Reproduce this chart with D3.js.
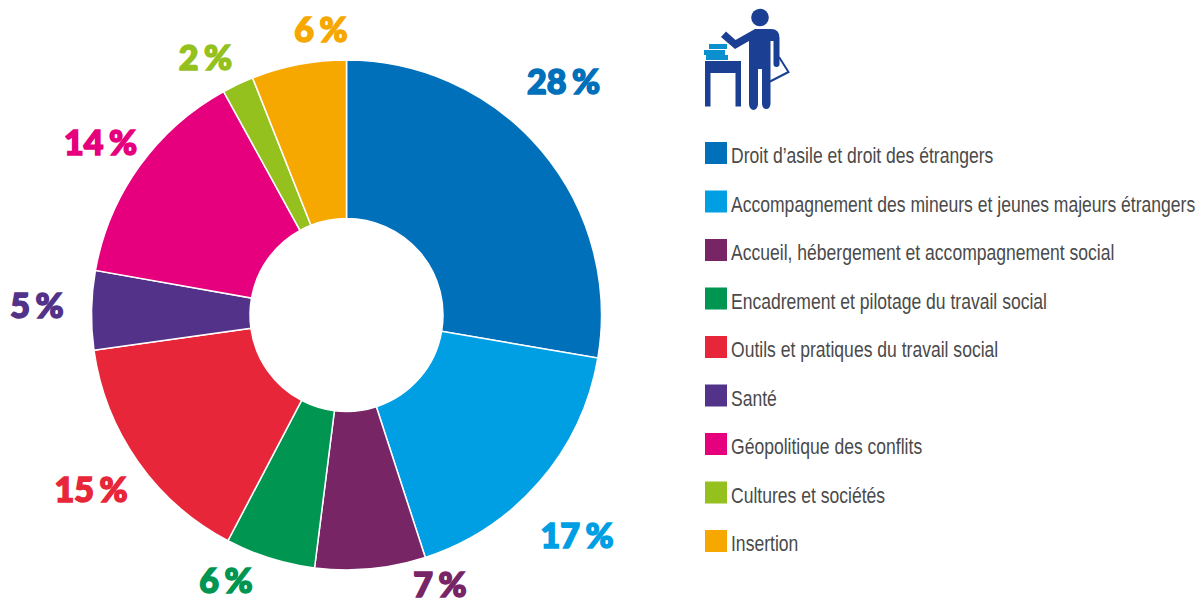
<!DOCTYPE html>
<html>
<head>
<meta charset="utf-8">
<script src="https://d3js.org/d3.v7.min.js"></script>
<style>
  html, body { margin: 0; padding: 0; background: #fff; }
  .legend-text { font-family: "Liberation Sans", sans-serif; font-size: 22px; fill: #4a4a4a; }
  .pct { font-family: Lato, "Liberation Sans", sans-serif; font-weight: 900; font-size: 34px; text-anchor: middle; stroke-width: 1.6px; word-spacing: -2.5px; }
</style>
</head>
<body>
<div id="chart-area"></div>
<script>
// Data
var categories = ["Droit d\u2019asile et droit des \u00e9trangers",
    "Accompagnement des mineurs et jeunes majeurs \u00e9trangers",
    "Accueil, h\u00e9bergement et accompagnement social",
    "Encadrement et pilotage du travail social",
    "Outils et pratiques du travail social",
    "Sant\u00e9",
    "G\u00e9opolitique des conflits",
    "Cultures et soci\u00e9t\u00e9s",
    "Insertion"];
// slice sizes
var values = [27.7, 17.3, 7, 5.7, 15.1, 5, 14.2, 2, 6];
var labels = ["28 %", "17 %", "7 %", "6 %", "15 %", "5 %", "14 %", "2 %", "6 %"];
var colors = ["#0070bb", "#009fe3", "#782566", "#009550", "#e72739", "#533389", "#e6007e", "#95c11f", "#f6a800"];

var width = 1202, height = 599;
var cx = 346.5, cy = 315, outerR = 255, innerR = 96.5;

// Hand placed labels, as in the original (centre of each text)
var labelX = [563.5, 577, 440, 226, 91, 37, 100.5, 205.5, 321];
var labelY = [93.5, 548, 597, 593, 502, 318, 155, 70, 42];

var svg = d3.select("#chart-area").append("svg")
    .attr("width", width)
    .attr("height", height)
    .style("display", "block");

// Donut
var pie = d3.pie().sort(null).value(function(d) { return d; });
var arc = d3.arc().innerRadius(innerR).outerRadius(outerR);

var g = svg.append("g")
    .attr("transform", "translate(" + cx + "," + cy + ")");

g.selectAll("path")
    .data(pie(values))
    .enter().append("path")
    .attr("d", arc)
    .attr("fill", function(d, i) { return colors[i]; })
    .attr("stroke", "#fff")
    .attr("stroke-width", 1.5);

// Percent labels
svg.selectAll(".pct")
    .data(labels)
    .enter().append("text")
    .attr("class", "pct")
    .attr("x", function(d, i) { return labelX[i]; })
    .attr("y", function(d, i) { return labelY[i]; })
    .attr("fill", function(d, i) { return colors[i]; })
    .attr("stroke", function(d, i) { return colors[i]; })
    .text(function(d) { return d; });

// Legend
var legendY = d3.scalePoint().domain(d3.range(categories.length)).range([142, 530]);

var legend = svg.selectAll(".legend")
    .data(categories)
    .enter().append("g")
    .attr("class", "legend")
    .attr("transform", function(d, i) { return "translate(705," + legendY(i) + ")"; });

legend.append("rect")
    .attr("width", 22)
    .attr("height", 22)
    .attr("fill", function(d, i) { return colors[i]; });

// the original face is condensed, so squeeze the text sideways
legend.append("text")
    .attr("class", "legend-text")
    .attr("transform", "translate(26,21) scale(0.798,1)")
    .text(function(d) { return d; });

// Person at desk icon
var icon = svg.append("g");
var navy = "#1b3f92";

icon.append("circle").attr("cx", 760).attr("cy", 17.5).attr("r", 8.8).attr("fill", navy);
// body and legs
icon.append("path").attr("fill", navy)
    .attr("d", "M755,29 H771 Q779.5,29 779.5,38 V64 A3,3 0 0 1 773.5,64 V41 H770.5 V104 A4.3,6 0 0 1 762,104 V69 H758 V104 A4.5,6 0 0 1 749,104 V52 Q749,41 749,41 L735,49 L721,37 L726,31.5 L735.5,40 Z");
// clipboard
icon.append("path").attr("fill", "none").attr("stroke", navy).attr("stroke-width", 2)
    .attr("d", "M779,57 L788.5,72 L770,81.5");
// desk
icon.append("path").attr("fill", navy)
    .attr("d", "M705,61 H741 V106.5 H735.5 V73 H710.5 V106.5 H705 Z");
// books
icon.append("path").attr("fill", "#0a8fcf")
    .attr("d", "M709,44 H727 V49 H709 Z M704,50 H725 V55 H704 Z M706,55 H728 V60 H706 Z");
</script>
</body>
</html>
